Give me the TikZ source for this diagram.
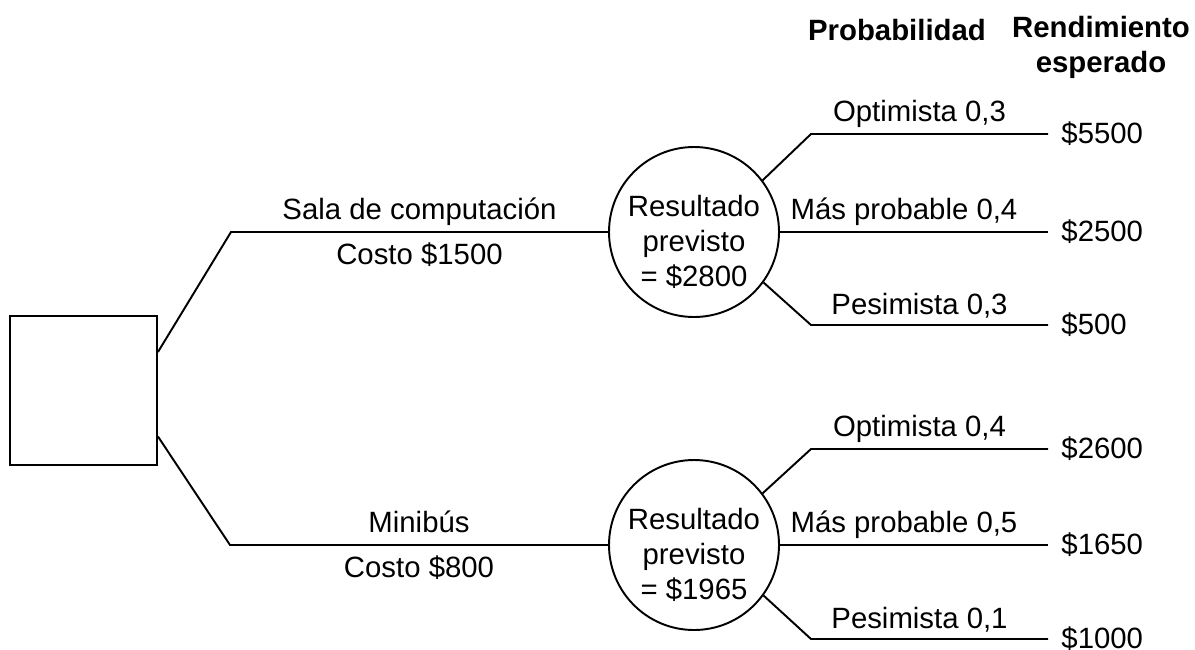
\documentclass[tikz,border=0pt]{standalone}
\usepackage{fontspec}
\setmainfont{Liberation Sans}
\begin{document}
\begin{tikzpicture}[font=\fontsize{16.7}{20}\selectfont, line width=1.1pt,
    decision/.style={draw, rectangle, minimum width=2.94cm, minimum height=2.98cm},
    chance/.style={draw, circle, minimum size=3.4cm, inner sep=0pt},
    inside/.style={align=center, yshift=-0.2cm},
    toplabel/.style={midway, above, text depth=0.25em, inner sep=4pt},
    botlabel/.style={midway, below, yshift=-0.08cm},
    problabel/.style={midway, above, xshift=-0.2cm},
    payoff/.style={right, inner sep=0.25cm}]
       \useasboundingbox (0,0) rectangle (23.9,-12.98);
       % nodes
       \node[decision] (dec) at (1.67,-7.81) {};
       \node[chance] (c1) at (13.88,-4.64) {};
       \node[chance] (c2) at (13.88,-10.9) {};
       \node[inside] (t1) at (c1) {Resultado\\previsto\\= \$2800};
       \node[inside] (t2) at (c2) {Resultado\\previsto\\= \$1965};
       \coordinate (k1) at (4.62,-4.64);
       \coordinate (k2) at (4.6,-10.9);
       \coordinate (u1) at (16.22,-2.68);
       \coordinate (d1) at (16.22,-6.5);
       \coordinate (u2) at (16.22,-8.98);
       \coordinate (d2) at (16.22,-12.78);
       \coordinate (e11) at (20.96,-2.68);
       \coordinate (e12) at (20.96,-4.64);
       \coordinate (e13) at (20.96,-6.5);
       \coordinate (e21) at (20.96,-8.98);
       \coordinate (e22) at (20.96,-10.9);
       \coordinate (e23) at (20.96,-12.78);
       % headers
       \node[font=\fontsize{16.7}{20}\selectfont\bfseries] (hprob) at (17.94,-0.6) {Probabilidad};
       \node[font=\fontsize{16.7}{20}\selectfont\bfseries, align=center] (hrend) at (22.02,-0.95) {Rendimiento\\esperado};
       % decision branches
       \draw ([yshift=0.77cm]dec.east) -- (k1) -- (c1.west)
            node[toplabel]{Sala de computación}
            node[botlabel]{Costo \$1500};
       \draw ([yshift=-0.92cm]dec.east) -- (k2) -- (c2.west)
            node[toplabel]{Minibús}
            node[botlabel]{Costo \$800};
       % chance branches
       \draw (c1.37) -- (u1) -- (e11) node[problabel]{Optimista 0,3};
       \draw (c1.east) -- (e12) node[problabel]{Más probable 0,4};
       \draw (c1.-36) -- (d1) -- (e13) node[problabel]{Pesimista 0,3};
       \draw (c2.37) -- (u2) -- (e21) node[problabel]{Optimista 0,4};
       \draw (c2.east) -- (e22) node[problabel]{Más probable 0,5};
       \draw (c2.-36) -- (d2) -- (e23) node[problabel]{Pesimista 0,1};
       % payoffs
       \node[payoff] (p11) at (e11) {\$5500};
       \node[payoff] (p12) at (e12) {\$2500};
       \node[payoff] (p13) at (e13) {\$500};
       \node[payoff] (p21) at (e21) {\$2600};
       \node[payoff] (p22) at (e22) {\$1650};
       \node[payoff] (p23) at (e23) {\$1000};
\end{tikzpicture}
\end{document}
